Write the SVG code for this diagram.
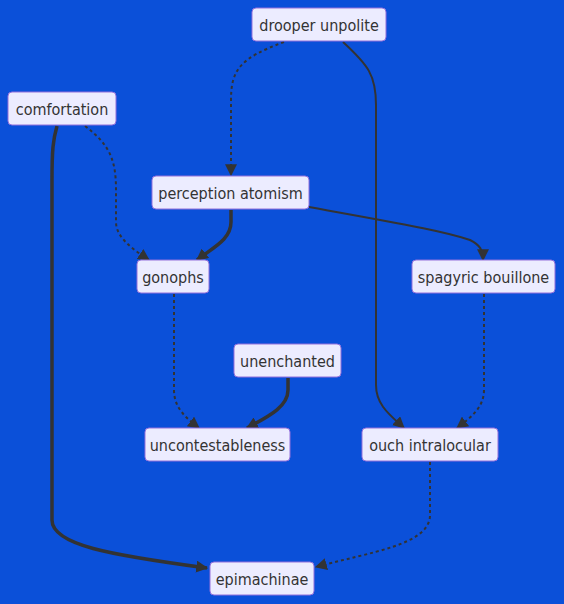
<svg xmlns="http://www.w3.org/2000/svg" width="564" height="604" viewBox="0 0 564 604">
<style>
.bg{fill:#0b50d9}
.node rect{fill:#ECECFF;stroke:#9370DB;stroke-width:1}
.node text{font-family:"DejaVu Sans Condensed","DejaVu Sans",sans-serif;font-stretch:condensed;font-size:16px;fill:#333;text-anchor:middle;dominant-baseline:central}
.e{fill:none;stroke:#333}
.thin{stroke-width:2}
.thick{stroke-width:3.5}
.dot{stroke-width:2;stroke-dasharray:3 3}
</style>
<defs>
<marker id="ah" viewBox="0 0 10 10" refX="9" refY="5" markerUnits="userSpaceOnUse" markerWidth="12" markerHeight="12" orient="auto">
<path d="M0,0 L10,5 L0,10 z" fill="#333"/>
</marker>
</defs>
<rect class="bg" x="0" y="0" width="564" height="604"/>
<g id="edges">
<path class="e dot" d="M284,42 C240,58 231,70 231,100 L231,175" marker-end="url(#ah)"/>
<path class="e thin" d="M343,42 C368,65 376,75 376,105 L376,385 C376,405 390,415 404,428" marker-end="url(#ah)"/>
<path class="e dot" d="M85,126 C110,145 116,160 116,190 L116,222 C116,238 134,250 149,260" marker-end="url(#ah)"/>
<path class="e thick" d="M57,126 C53,140 52,150 52,180 L52,520 C52,545 110,555 207,568" marker-end="url(#ah)"/>
<path class="e thick" d="M231,210 L231,222 C231,240 212,248 197,260" marker-end="url(#ah)"/>
<path class="e thin" d="M309,207 C390,222 440,230 470,240 C480,245 483,250 483,260" marker-end="url(#ah)"/>
<path class="e dot" d="M174,294 L174,390 C174,408 186,418 199,428" marker-end="url(#ah)"/>
<path class="e thick" d="M288,378 L288,390 C288,408 265,418 247,428" marker-end="url(#ah)"/>
<path class="e dot" d="M484,294 L484,390 C484,408 470,418 457,428" marker-end="url(#ah)"/>
<path class="e dot" d="M430,462 L430,515 C430,545 370,552 316,567" marker-end="url(#ah)"/>
</g>
<g id="n-drooper" class="node"><rect x="252" y="8" width="134" height="33" rx="4"/><text x="319" y="25.5">drooper unpolite</text></g>
<g id="n-comfortation" class="node"><rect x="8" y="92" width="108" height="33" rx="4"/><text x="62" y="109.5">comfortation</text></g>
<g id="n-perception" class="node"><rect x="152" y="176" width="157" height="33" rx="4"/><text x="230.5" y="193.5">perception atomism</text></g>
<g id="n-gonophs" class="node"><rect x="137" y="260" width="72" height="33" rx="4"/><text x="173" y="277.5">gonophs</text></g>
<g id="n-spagyric" class="node"><rect x="412" y="260" width="143" height="33" rx="4"/><text x="483.5" y="277.5">spagyric bouillone</text></g>
<g id="n-unenchanted" class="node"><rect x="234" y="344" width="107" height="33" rx="4"/><text x="287.5" y="361.5">unenchanted</text></g>
<g id="n-uncontest" class="node"><rect x="145" y="428" width="145" height="33" rx="4"/><text x="217.5" y="445.5">uncontestableness</text></g>
<g id="n-ouch" class="node"><rect x="362" y="428" width="136" height="33" rx="4"/><text x="430" y="445.5">ouch intralocular</text></g>
<g id="n-epimachinae" class="node"><rect x="210" y="562" width="104" height="33" rx="4"/><text x="262" y="579.5">epimachinae</text></g>
</svg>
